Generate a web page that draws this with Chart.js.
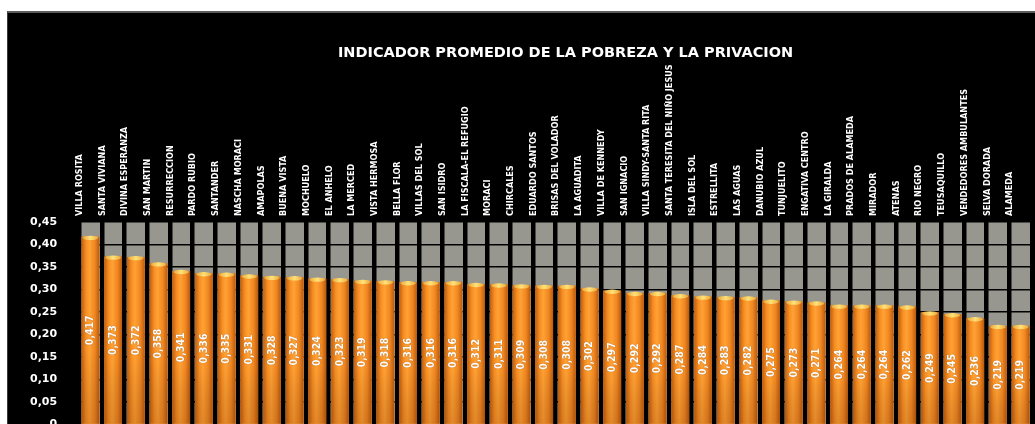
<!DOCTYPE html>
<html lang="es">
<head>
    <meta charset="UTF-8">
    <title>Indicador promedio de la pobreza y la privacion</title>
    <style>
        body {
    margin: 0;
    padding: 0;
    background-color: #ffffff;
    overflow: hidden;
}

.frame {
    position: absolute;
    left: 7px;
    top: 11px;
    width: 1028px;
    height: 440px;
    background-color: #000000;
    border-top: 2px solid #5c5c5c;
    border-left: 1px solid #3a3a3a;
}

.frame canvas {
    width: 100% !important;
    height: 100% !important;
}
    </style>
</head>
<body>
    <div class="frame">
        <canvas id="pobrezaChart"></canvas>
    </div>
    <script src="https://cdn.jsdelivr.net/npm/chart.js"></script>
    <script>
// Data
const chartTitle = 'INDICADOR PROMEDIO DE LA POBREZA Y LA PRIVACION';

const barrios = [
    'VILLA ROSITA', 'SANTA VIVIANA', 'DIVINA ESPERANZA', 'SAN MARTIN', 'RESURRECCION',
    'PARDO RUBIO', 'SANTANDER', 'NASCHA MORACI', 'AMAPOLAS', 'BUENA VISTA',
    'MOCHUELO', 'EL ANHELO', 'LA MERCED', 'VISTA HERMOSA', 'BELLA FLOR',
    'VILLAS DEL SOL', 'SAN ISIDRO', 'LA FISCALA-EL REFUGIO', 'MORACI', 'CHIRCALES',
    'EDUARDO SANTOS', 'BRISAS DEL VOLADOR', 'LA AGUADITA', 'VILLA DE KENNEDY', 'SAN IGNACIO',
    'VILLA SINDY-SANTA RITA', 'SANTA TERESITA DEL NIÑO JESUS', 'ISLA DEL SOL', 'ESTRELLITA', 'LAS AGUAS',
    'DANUBIO AZUL', 'TUNJUELITO', 'ENGATIVA CENTRO', 'LA GIRALDA', 'PRADOS DE ALAMEDA',
    'MIRADOR', 'ATENAS', 'RIO NEGRO', 'TEUSAQUILLO', 'VENDEDORES AMBULANTES',
    'SELVA DORADA', 'ALAMEDA'
];

const indicador = [
    0.417, 0.373, 0.372, 0.358, 0.341,
    0.336, 0.335, 0.331, 0.328, 0.327,
    0.324, 0.323, 0.319, 0.318, 0.316,
    0.316, 0.316, 0.312, 0.311, 0.309,
    0.308, 0.308, 0.302, 0.297, 0.292,
    0.292, 0.287, 0.284, 0.283, 0.282,
    0.275, 0.273, 0.271, 0.264, 0.264,
    0.264, 0.262, 0.249, 0.245, 0.236,
    0.219, 0.219
];

const yMin = 0;
const yMax = 0.45;
const yStep = 0.05;

const narrowFont = "'Liberation Sans Narrow', 'DejaVu Sans Condensed', 'Arial Narrow', sans-serif";

function comma(v, digits) {
    return v.toFixed(digits).replace('.', ',');
}

// grey plot background + title centred over the plot
const plotBackground = {
    id: 'plotBackground',
    beforeDraw(chart) {
        const a = chart.chartArea;
        const ctx = chart.ctx;
        ctx.save();
        ctx.fillStyle = '#98978f';
        ctx.fillRect(a.left, a.top, a.right - a.left, a.bottom - a.top);

        ctx.font = "bold 14.5px 'DejaVu Sans', Verdana, sans-serif";
        ctx.fillStyle = '#ffffff';
        ctx.textAlign = 'center';
        ctx.textBaseline = 'middle';
        ctx.fillText(chartTitle, (a.left + a.right) / 2 + 10, 40);
        ctx.restore();
    }
};

// cylinder shading and value labels on each bar
const barShading = {
    id: 'barShading',
    afterDatasetsDraw(chart) {
        const ctx = chart.ctx;
        const meta = chart.getDatasetMeta(0);
        meta.data.forEach(function(bar, i) {
            const p = bar.getProps(['x', 'y', 'base', 'width'], true);
            const left = p.x - p.width / 2;
            const right = p.x + p.width / 2;

            ctx.save();
            const g = ctx.createLinearGradient(left, 0, right, 0);
            g.addColorStop(0, '#c05f10');
            g.addColorStop(0.25, '#f88e22');
            g.addColorStop(0.45, '#ffa235');
            g.addColorStop(0.75, '#f08620');
            g.addColorStop(1, '#b85a10');
            ctx.fillStyle = g;
            ctx.fillRect(left, p.y, p.width, p.base - p.y);

            const v = ctx.createLinearGradient(0, p.y, 0, p.base);
            v.addColorStop(0, 'rgba(0,0,0,0)');
            v.addColorStop(0.6, 'rgba(0,0,0,0)');
            v.addColorStop(1, 'rgba(90,30,0,0.18)');
            ctx.fillStyle = v;
            ctx.fillRect(left, p.y, p.width, p.base - p.y);

            // top cap
            const c = ctx.createLinearGradient(left, 0, right, 0);
            c.addColorStop(0, '#e8a030');
            c.addColorStop(0.5, '#ffe27a');
            c.addColorStop(1, '#e8a030');
            ctx.fillStyle = c;
            ctx.beginPath();
            ctx.ellipse(p.x, p.y + 1, p.width / 2 - 1, 2.2, 0, 0, Math.PI * 2);
            ctx.fill();

            // value label
            ctx.translate(p.x, (p.y + p.base) / 2);
            ctx.rotate(-Math.PI / 2);
            ctx.font = 'bold 10.5px ' + narrowFont;
            ctx.fillStyle = '#ffffff';
            ctx.textAlign = 'center';
            ctx.textBaseline = 'middle';
            ctx.shadowColor = 'rgba(80,30,0,0.6)';
            ctx.shadowBlur = 1;
            ctx.fillText(comma(indicador[i], 3), 0, 0);
            ctx.restore();
        });
    }
};

document.addEventListener('DOMContentLoaded', function() {
    const ctx = document.getElementById('pobrezaChart').getContext('2d');

    new Chart(ctx, {
        type: 'bar',
        data: {
            labels: barrios,
            datasets: [{
                data: indicador,
                backgroundColor: '#f39020',
                borderWidth: 0,
                categoryPercentage: 1,
                barPercentage: 0.78
            }]
        },
        options: {
            responsive: true,
            maintainAspectRatio: false,
            animation: false,
            layout: {
                padding: { top: 48, right: 4, bottom: 12, left: 0 }
            },
            plugins: {
                legend: { display: false },
                tooltip: { enabled: false },
                title: { display: false }
            },
            scales: {
                x: {
                    position: 'top',
                    offset: true,
                    afterFit: function(scale) {
                        scale.height = 161;
                    },
                    grid: {
                        display: true,
                        offset: true,
                        color: '#000000',
                        lineWidth: 4.5,
                        drawTicks: false
                    },
                    border: { display: false },
                    ticks: {
                        color: '#ffffff',
                        autoSkip: false,
                        minRotation: 90,
                        maxRotation: 90,
                        padding: 6,
                        font: { family: narrowFont, size: 9, weight: 'bold' }
                    }
                },
                y: {
                    min: yMin,
                    max: yMax,
                    grid: {
                        color: '#000000',
                        lineWidth: 1.5,
                        drawTicks: false
                    },
                    border: { display: false },
                    ticks: {
                        stepSize: yStep,
                        color: '#ffffff',
                        padding: 22,
                        font: { family: "'DejaVu Sans', Verdana, sans-serif", size: 11, weight: 'bold' },
                        callback: function(value) {
                            return value === 0 ? '0' : comma(value, 2);
                        }
                    }
                }
            }
        },
        plugins: [plotBackground, barShading]
    });
});
    </script>
</body>
</html>
